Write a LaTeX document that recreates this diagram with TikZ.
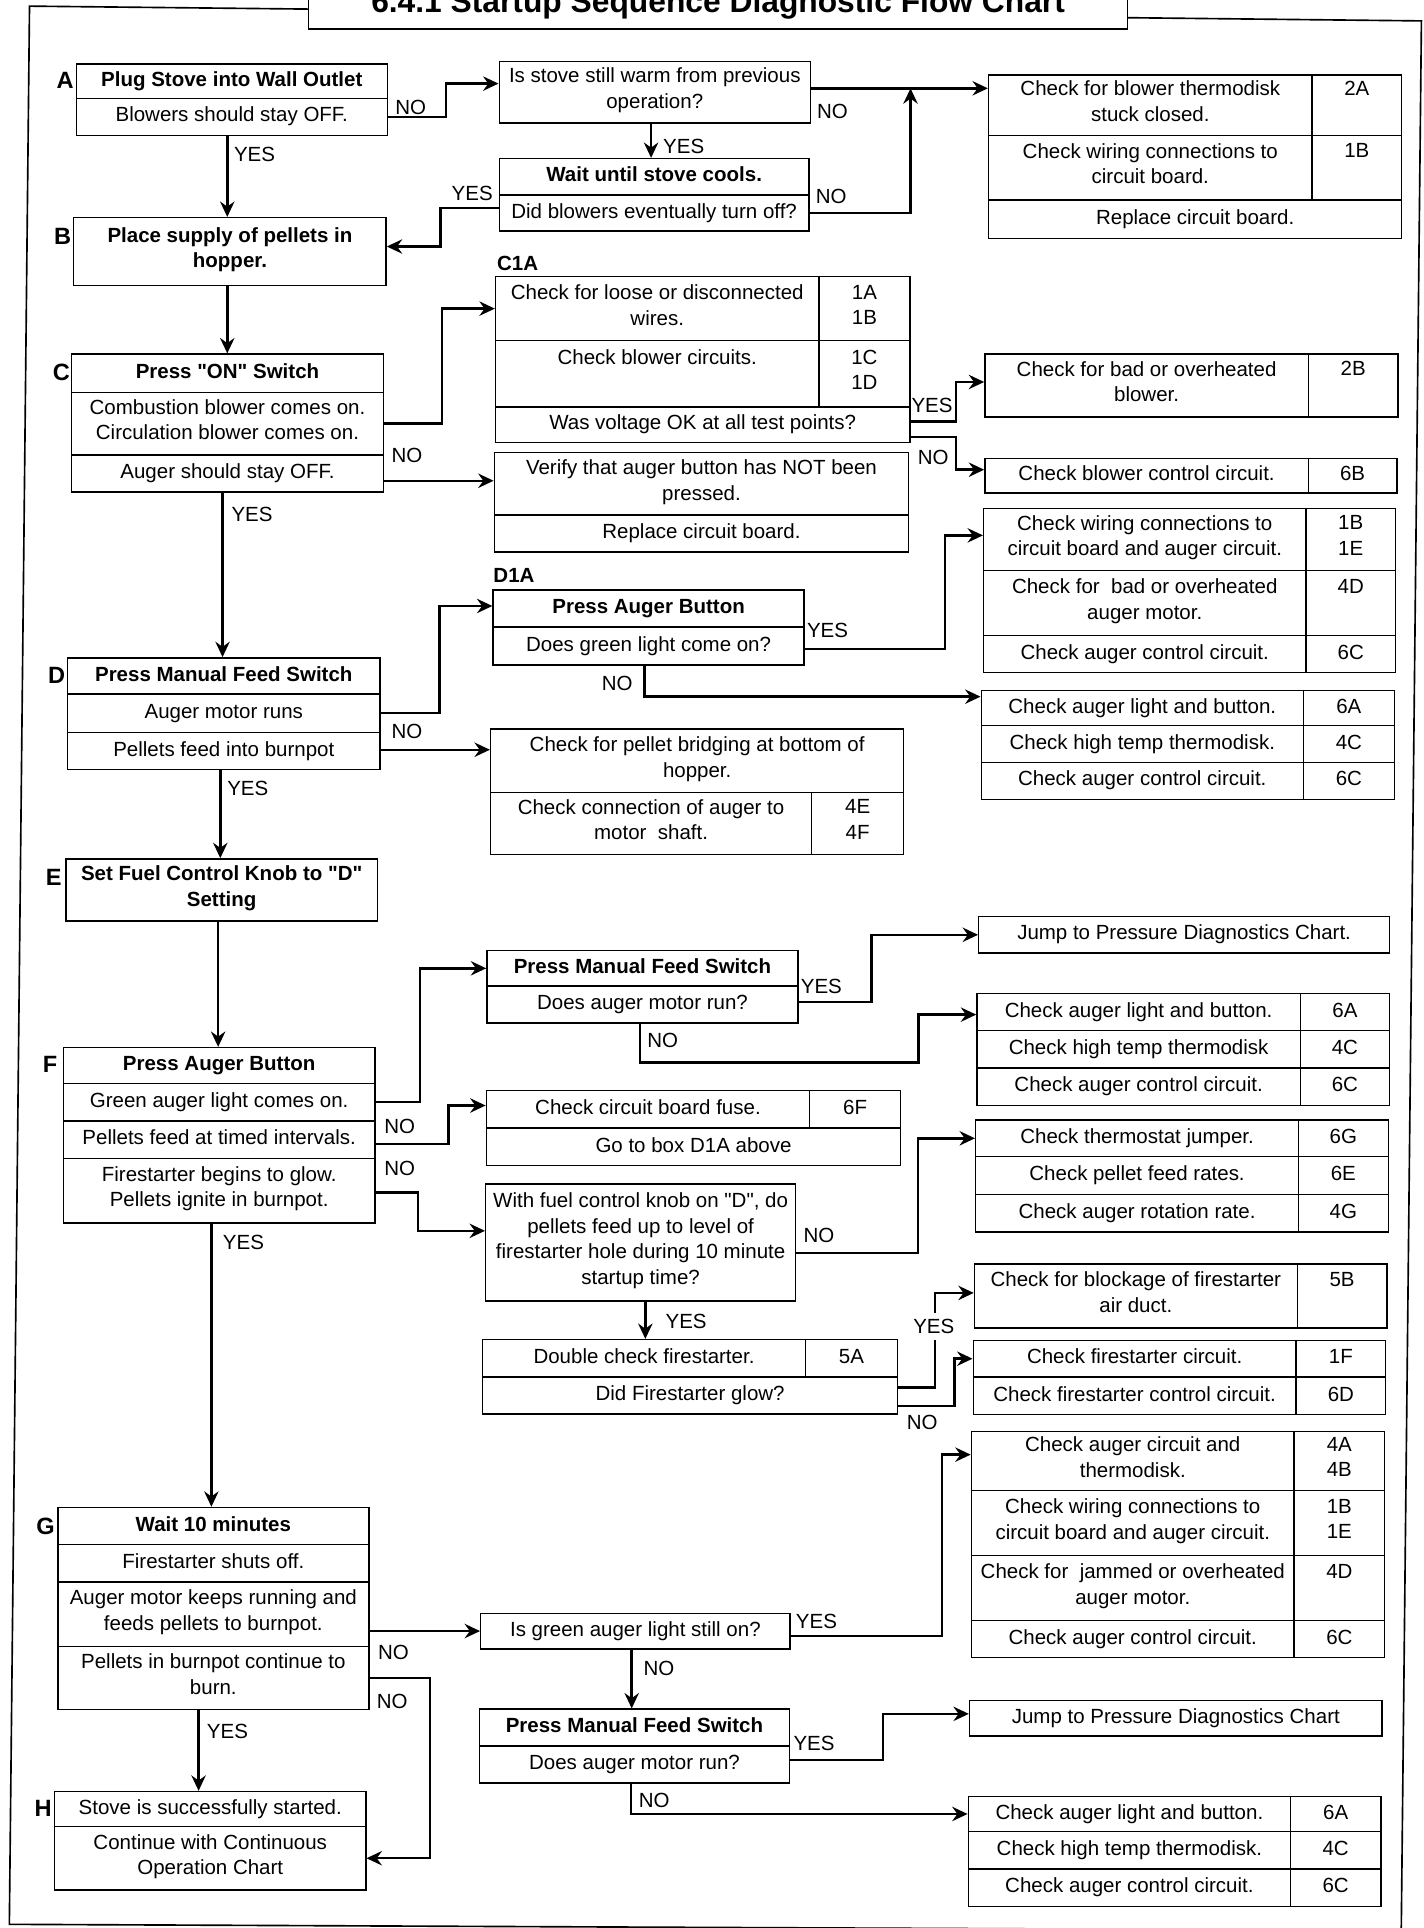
\documentclass[tikz,border=0pt]{standalone}
\usepackage{fontspec}
\setmainfont{Liberation Sans}[Ligatures=TeXOff]
\usetikzlibrary{arrows.meta,calc}
\newcommand{\bx}[7][cell]{\node[#1, minimum width={((#5)-(#3))*0.6pt}, minimum height={((#6)-(#4))*0.6pt}] (#2) at ({((#3)+(#5))/2},{((#4)+(#6))/2}) {#7};}
\begin{document}
\begin{tikzpicture}[x=0.6pt,y=-0.6pt,
  cell/.style={draw, line width=0.7pt, inner sep=0pt, align=center, font=\fontsize{10}{12.5}\selectfont, execute at begin node={\strut}, execute at end node={\strut}},
  bcell/.style={cell, font=\bfseries\fontsize{10}{12.5}\selectfont},
  lbl/.style={inner sep=0pt, font=\fontsize{10}{12}\selectfont},
  letter/.style={inner sep=0pt, font=\bfseries\fontsize{11.5}{13}\selectfont},
  tag/.style={inner sep=0pt, font=\bfseries\fontsize{10}{12}\selectfont},
  titletxt/.style={inner sep=0pt, font=\bfseries\fontsize{15.5}{18}\selectfont},
  frame/.style={line width=0.8pt},
  conn/.style={line width=1.2pt},
  arr/.style={conn, -{Stealth[length=7.5pt,width=7pt,inset=2.5pt]}}]
\useasboundingbox (0,0) rectangle (1158,1568);
% frame and title
\draw[frame] (251,7.4) -- (24,5) -- (7.6,1565) -- (1139.6,1570) -- (1156,17) -- (917,14.4);
\bx{TB}{251}{-30}{917}{23.5}{}
\node[titletxt, anchor=base] (title) at (584,10.5) {6.4.1 Startup Sequence Diagnostic Flow Chart};
% letters
\node[letter] (LA) at (53,65) {A};
\node[letter] (LB) at (51,192.5) {B};
\node[letter] (LC) at (50,302.5) {C};
\node[letter] (LD) at (46,549.5) {D};
\node[letter] (LE) at (43.6,713.4) {E};
\node[letter] (LF) at (40.7,865.5) {F};
\node[letter] (LG) at (37,1241) {G};
\node[letter] (LH) at (35,1470.5) {H};
% A
\bx[bcell]{A1}{62}{52}{315}{80}{Plug Stove into Wall Outlet}
\bx{A2}{62}{80}{315}{110}{Blowers should stay OFF.}
\bx{Q1}{406}{50}{659}{100}{Is stove still warm from previous\\operation?}
\bx[bcell]{W1}{406}{129}{658}{158.5}{Wait until stove cools.}
\bx{W2}{406}{158.5}{658}{188}{Did blowers eventually turn off?}
\bx{R1a}{804}{61}{1067}{110}{Check for blower thermodisk\\stuck closed.}
\bx{R1ac}{1067}{61}{1140}{110}{2A\\\mbox{}}
\bx{R1b}{804}{110}{1067}{162.5}{Check wiring connections to\\circuit board.}
\bx{R1bc}{1067}{110}{1140}{162.5}{1B\\\mbox{}}
\bx{R1c}{804}{162.5}{1140}{194}{Replace circuit board.}
% B
\bx[bcell]{B}{60}{177}{314}{232}{Place supply of pellets in\\hopper.}
% C1A
\node[tag] (C1Atag) at (421,214) {C1A};
\bx{C1Aa}{403}{225}{666}{277}{Check for loose or disconnected\\wires.}
\bx{C1Aac}{666}{225}{740}{277}{1A\\1B}
\bx{C1Ab}{403}{277}{666}{331}{Check blower circuits.\\\mbox{}}
\bx{C1Abc}{666}{277}{740}{331}{1C\\1D}
\bx{C1Ac}{403}{331}{740}{360}{Was voltage OK at all test points?}
% C
\bx[bcell]{C1}{58}{288}{312}{319}{Press "ON" Switch}
\bx{C2}{58}{319}{312}{370}{Combustion blower comes on.\\Circulation blower comes on.}
\bx{C3}{58}{370}{312}{400}{Auger should stay OFF.}
\bx{Vf1}{402}{368}{739}{419}{Verify that auger button has NOT been\\pressed.}
\bx{Vf2}{402}{419}{739}{449}{Replace circuit board.}
\bx{B2Ba}{801}{288}{1064}{339}{Check for bad or overheated\\blower.}
\bx{B2Bc}{1064}{288}{1137}{339}{2B\\\mbox{}}
\bx{B6Ba}{801}{373}{1064}{401}{Check blower control circuit.}
\bx{B6Bc}{1064}{373}{1136}{401}{6B}
% D1A
\node[tag] (D1Atag) at (418,468) {D1A};
\bx[bcell]{D1Aa}{401}{480}{654}{510}{Press Auger Button}
\bx{D1Ab}{401}{510}{654}{541}{Does green light come on?}
% D
\bx[bcell]{D1}{55}{535}{309}{564.5}{Press Manual Feed Switch}
\bx{D2}{55}{564.5}{309}{595.5}{Auger motor runs}
\bx{D3}{55}{595.5}{309}{626}{Pellets feed into burnpot}
\bx{DCa}{800}{413.5}{1062}{464}{Check wiring connections to\\circuit board and auger circuit.}
\bx{DCac}{1062}{413.5}{1135}{464}{1B\\1E}
\bx{DCb}{800}{464}{1062}{517}{Check for\ \ bad or overheated\\auger motor.}
\bx{DCbc}{1062}{464}{1135}{517}{4D\\\mbox{}}
\bx{DCc}{800}{517}{1062}{547}{Check auger control circuit.}
\bx{DCcc}{1062}{517}{1135}{547}{6C}
\bx{DC2a}{798}{561.5}{1060}{590}{Check auger light and button.}
\bx{DC2ac}{1060}{561.5}{1134}{590}{6A}
\bx{DC2b}{798}{590}{1060}{620}{Check high temp thermodisk.}
\bx{DC2bc}{1060}{590}{1134}{620}{4C}
\bx{DC2c}{798}{620}{1060}{650}{Check auger control circuit.}
\bx{DC2cc}{1060}{620}{1134}{650}{6C}
\bx{Brg1}{399}{593}{735}{644.5}{Check for pellet bridging at bottom of\\hopper.}
\bx{Brg2}{399}{644.5}{660}{695}{Check connection of auger to\\motor\ \ shaft.}
\bx{Brg2c}{660}{644.5}{735}{695}{4E\\4F}
% E
\bx[bcell]{E}{53.5}{698.5}{307}{749}{Set Fuel Control Knob to "D"\\Setting}
% PMF1
\bx[bcell]{PMF1a}{396}{773}{649}{802}{Press Manual Feed Switch}
\bx{PMF1b}{396}{802}{649}{832}{Does auger motor run?}
\bx{J1}{796}{745.5}{1130}{775}{Jump to Pressure Diagnostics Chart.}
% F
\bx[bcell]{F1}{51.5}{852}{305}{881}{Press Auger Button}
\bx{F2}{51.5}{881}{305}{911.5}{Green auger light comes on.}
\bx{F3}{51.5}{911.5}{305}{942}{Pellets feed at timed intervals.}
\bx{F4}{51.5}{942}{305}{994.5}{Firestarter begins to glow.\\Pellets ignite in burnpot.}
\bx{FC1a}{794.5}{808}{1057.5}{838}{Check auger light and button.}
\bx{FC1ac}{1057.5}{808}{1130}{838}{6A}
\bx{FC1b}{794.5}{838}{1057.5}{868.5}{Check high temp thermodisk}
\bx{FC1bc}{1057.5}{838}{1130}{868.5}{4C}
\bx{FC1c}{794.5}{868.5}{1057.5}{899}{Check auger control circuit.}
\bx{FC1cc}{1057.5}{868.5}{1130}{899}{6C}
\bx{Fu1}{395.5}{887}{658.5}{917.5}{Check circuit board fuse.}
\bx{Fu1c}{658.5}{887}{732.5}{917.5}{6F}
\bx{Fu2}{395.5}{917.5}{732.5}{948}{Go to box D1A above}
\bx{FC2a}{793.5}{911}{1056}{940.5}{Check thermostat jumper.}
\bx{FC2ac}{1056}{911}{1129}{940.5}{6G}
\bx{FC2b}{793.5}{940.5}{1056}{971.5}{Check pellet feed rates.}
\bx{FC2bc}{1056}{940.5}{1129}{971.5}{6E}
\bx{FC2c}{793.5}{971.5}{1056}{1002}{Check auger rotation rate.}
\bx{FC2cc}{1056}{971.5}{1129}{1002}{4G}
\bx{QF}{395}{963}{647}{1058}{With fuel control knob on "D", do\\pellets feed up to level of\\firestarter hole during 10 minute\\startup time?}
\bx{B5Ba}{792.5}{1028}{1055}{1080}{Check for blockage of firestarter\\air duct.}
\bx{B5Bc}{1055}{1028}{1128}{1080}{5B\\\mbox{}}
\bx{Dbl1}{392.5}{1089.5}{655}{1120}{Double check firestarter.}
\bx{Dbl1c}{655}{1089.5}{730}{1120}{5A}
\bx{Dbl2}{392.5}{1120}{730}{1150}{Did Firestarter glow?}
\bx{F1Fa}{791.5}{1090}{1054}{1120}{Check firestarter circuit.}
\bx{F1Fc}{1054}{1090}{1127}{1120}{1F}
\bx{F6Da}{791.5}{1120}{1054}{1150.5}{Check firestarter control circuit.}
\bx{F6Dc}{1054}{1120}{1127}{1150.5}{6D}
% G
\bx[bcell]{G1}{47}{1226}{300}{1256}{Wait 10 minutes}
\bx{G2}{47}{1256}{300}{1286.5}{Firestarter shuts off.}
\bx{G3}{47}{1286.5}{300}{1339}{Auger motor keeps running and\\feeds pellets to burnpot.}
\bx{G4}{47}{1339}{300}{1390.5}{Pellets in burnpot continue to\\burn.}
\bx{QG}{391}{1312}{642.5}{1341}{Is green auger light still on?}
\bx{GCa}{790}{1164}{1052.5}{1212}{Check auger circuit and\\thermodisk.}
\bx{GCac}{1052.5}{1164}{1126}{1212}{4A\\4B}
\bx{GCb}{790}{1212}{1052.5}{1265}{Check wiring connections to\\circuit board and auger circuit.}
\bx{GCbc}{1052.5}{1212}{1126}{1265}{1B\\1E}
\bx{GCc}{790}{1265}{1052.5}{1318}{Check for\ \ jammed or overheated\\auger motor.}
\bx{GCcc}{1052.5}{1265}{1126}{1318}{4D\\\mbox{}}
\bx{GCd}{790}{1318}{1052.5}{1348}{Check auger control circuit.}
\bx{GCdc}{1052.5}{1318}{1126}{1348}{6C}
\bx[bcell]{PMF2a}{390}{1390}{642}{1420}{Press Manual Feed Switch}
\bx{PMF2b}{390}{1420}{642}{1450}{Does auger motor run?}
\bx{J2}{788.5}{1383}{1124}{1412}{Jump to Pressure Diagnostics Chart}
\bx{La}{787.5}{1461}{1049.5}{1489.5}{Check auger light and button.}
\bx{Lac}{1049.5}{1461}{1123}{1489.5}{6A}
\bx{Lb}{787.5}{1489.5}{1049.5}{1520}{Check high temp thermodisk.}
\bx{Lbc}{1049.5}{1489.5}{1123}{1520}{4C}
\bx{Lc}{787.5}{1520}{1049.5}{1550.5}{Check auger control circuit.}
\bx{Lcc}{1049.5}{1520}{1123}{1550.5}{6C}
% H
\bx{H1}{44.5}{1457}{297.5}{1485.5}{Stove is successfully started.}
\bx{H2}{44.5}{1485.5}{297.5}{1537}{Continue with Continuous\\Operation Chart}
% ---------- connectors
\draw[arr] (A2.east) -- ++(47,0) |- ([yshift=4.2pt]Q1.west);
\coordinate (q1no) at ([yshift=1.9pt]Q1.east);
\draw[arr] (q1no) -- (q1no -| R1a.west);
\draw[arr] (W2.east) -| (q1no -| 740.5,0);
\coordinate (q1yes) at ([xshift=-1.8pt]Q1.south);
\draw[arr] (q1yes) -- (q1yes |- W1.north);
\draw[arr] ([yshift=2.5pt]W2.west) -- ++(-47,0) |- ([yshift=2.4pt]B.east);
\coordinate (ayes) at ([xshift=-2.2pt]A2.south);
\draw[arr] (ayes) -- (ayes |- B.north);
\coordinate (bc) at ([xshift=-1.3pt]B.south);
\draw[arr] (bc) -- (bc |- C1.north);
\draw[arr] (C2.east) -- ++(47,0) |- (C1Aa.west);
\coordinate (cno) at ([yshift=-3.6pt]C3.east);
\draw[arr] (cno) -- (cno -| Vf1.west);
\draw[arr] ([yshift=1.7pt]C1Ac.east) -- ++(37,0) |- ([yshift=1.7pt]B2Ba.west);
\draw[arr] ([yshift=-6pt]C1Ac.east) -- ++(37,0) |- ([yshift=3pt]B6Ba.west);
\coordinate (cd) at ([xshift=-2.4pt]C3.south);
\draw[arr] (cd) -- (cd |- D1.north);
\draw[arr] (D2.east) -- ++(48,0) |- ([yshift=1.3pt]D1Aa.west);
\coordinate (dno) at ([yshift=0.6pt]D3.east);
\draw[arr] (dno) -- (dno -| Brg1.west);
\draw[arr] ([yshift=-1.4pt]D1Ab.east) -- ++(114,0) |- ([yshift=2pt]DCa.west);
\draw[arr] ([xshift=-2pt]D1Ab.south) |- ([yshift=5.5pt]DC2a.west);
\coordinate (de) at ([xshift=-1.7pt]D3.south);
\draw[arr] (de) -- (de |- E.north);
\coordinate (ef) at ([xshift=-1.7pt]E.south);
\draw[arr] (ef) -- (ef |- F1.north);
\draw[arr] (F2.east) -- ++(36,0) |- (PMF1a.west);
\draw[arr] ([yshift=1.3pt]PMF1b.east) -- ++(59,0) |- (J1.west);
\draw[arr] ([xshift=-1.2pt]PMF1b.south) -- ++(0,31.5) -- ++(226.5,0) |- ([yshift=-1.3pt]FC1a.west);
\draw[arr] ([yshift=-2.3pt]F3.east) -- ++(59,0) |- ([yshift=1.9pt]Fu1.west);
\draw[arr] ([yshift=-1pt]F4.east) -- ++(34.3,0) |- ([yshift=5.7pt]QF.west);
\draw[arr] ([yshift=-5.2pt]QF.east) -- ++(99,0) |- (FC2a.west);
\coordinate (qfy) at ([xshift=2.3pt]QF.south);
\draw[arr] (qfy) -- (qfy |- Dbl1.north);
\draw[arr] ([yshift=4pt]Dbl2.east) -- ++(30,0) |- ([yshift=1.5pt]B5Ba.west);
\draw[arr] ([yshift=-5pt]Dbl2.east) -- ++(45.6,0) |- (F1Fa.west);
\coordinate (fg) at ([xshift=-3.8pt]F4.south);
\draw[arr] (fg) -- (fg |- G1.north);
\draw[arr] (G3.east |- QG.west) -- (QG.west);
\draw[arr] (G4.east) -- ++(49,0) |- (H2.east);
\coordinate (gh) at ([xshift=-7.2pt]G4.south);
\draw[arr] (gh) -- (gh |- H1.north);
\draw[arr] ([yshift=-2.3pt]QG.east) -- ++(123,0) |- ([yshift=3pt]GCa.west);
\coordinate (qgno) at ([xshift=-1.8pt]QG.south);
\draw[arr] (qgno) -- (qgno |- PMF2a.north);
\draw[arr] ([yshift=2.3pt]PMF2b.east) -- ++(75.7,0) |- ([yshift=2.2pt]J2.west);
\draw[arr] ([xshift=-1.8pt]PMF2b.south) |- (La.west);
% ---------- labels
\node[lbl] (l1) at (334,87) {NO};
\node[lbl] (l2) at (207,126) {YES};
\node[lbl] (l3) at (556,119) {YES};
\node[lbl] (l4) at (384,157) {YES};
\node[lbl] (l5) at (677,91) {NO};
\node[lbl] (l6) at (676,160) {NO};
\node[lbl] (l7) at (205,418) {YES};
\node[lbl] (l8) at (331,370) {NO};
\node[lbl] (l9) at (758,330) {YES};
\node[lbl] (l10) at (759,372) {NO};
\node[lbl] (l11) at (673,513) {YES};
\node[lbl] (l12) at (502,556) {NO};
\node[lbl] (l13) at (331,595) {NO};
\node[lbl] (l14) at (201.5,641) {YES};
\node[lbl] (l15) at (668,802) {YES};
\node[lbl] (l16) at (539,846.5) {NO};
\node[lbl] (l17) at (325,916) {NO};
\node[lbl] (l18) at (325,950) {NO};
\node[lbl] (l19) at (198,1010.5) {YES};
\node[lbl] (l20) at (666,1005) {NO};
\node[lbl] (l21) at (558,1075) {YES};
\node[lbl, fill=white, inner xsep=1pt, inner ysep=3pt] (l22) at (759.4,1078.6) {YES};
\node[lbl] (l23) at (750,1157) {NO};
\node[lbl] (l24) at (320,1344) {NO};
\node[lbl] (l25) at (319,1384) {NO};
\node[lbl] (l26) at (185,1408) {YES};
\node[lbl] (l27) at (664,1319) {YES};
\node[lbl] (l28) at (536,1357) {NO};
\node[lbl] (l29) at (662,1418) {YES};
\node[lbl] (l30) at (532,1464) {NO};
\end{tikzpicture}
\end{document}
